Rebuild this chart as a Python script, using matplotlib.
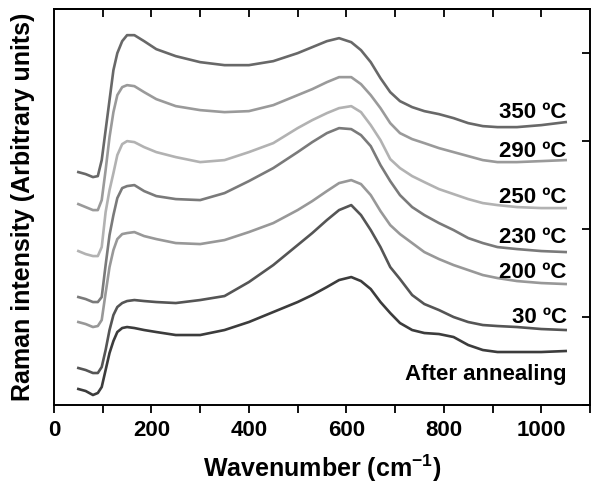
import matplotlib
matplotlib.use("Agg")
import matplotlib.pyplot as plt
from matplotlib.ticker import MultipleLocator

plt.rcParams["font.family"] = ["Liberation Sans", "DejaVu Sans"]
plt.rcParams["font.weight"] = "bold"
plt.rcParams["mathtext.fontset"] = "custom"
plt.rcParams["mathtext.rm"] = "Liberation Sans:bold"
plt.rcParams["mathtext.bf"] = "Liberation Sans:bold"
plt.rcParams["mathtext.it"] = "Liberation Sans:bold"

# wavenumber grid (cm-1) shared by all spectra
wavenumber = [50, 65, 80, 90, 98, 106, 114, 122, 130, 140, 150, 165, 185, 210,
              250, 300, 350, 400, 450, 500, 530, 560, 585, 610, 630, 650, 670,
              690, 710, 735, 760, 790, 820, 850, 880, 910, 950, 1000, 1050]

# stacked Raman spectra (arbitrary units, offsets included)
t350 = [233, 231, 228, 229, 245, 275, 305, 335, 352, 364, 370, 370, 364, 356,
        349, 343, 340, 340, 344, 352, 358, 364, 367, 363, 355, 343, 327,
        313, 304, 298, 294, 291, 287, 282, 279, 278, 278, 280, 283]
t290 = [201, 198, 195, 195, 205, 235, 268, 293, 310, 318, 320, 319, 313, 306,
        299, 295, 293, 294, 300, 310, 316, 323, 328, 328, 321, 310, 297,
        282, 272, 266, 262, 257, 253, 249, 245, 243, 243, 244, 245]
t250 = [154, 151, 149, 149, 158, 193, 215, 232, 250, 261, 264, 263, 258, 253,
        248, 243, 245, 253, 262, 277, 285, 292, 297, 299, 293, 280, 265,
        246, 237, 229, 223, 216, 211, 206, 202, 200, 198, 197, 197]
t230 = [108, 106, 103, 103, 108, 140, 170, 190, 207, 217, 219, 220, 214, 209,
        206, 205, 212, 224, 237, 253, 263, 272, 277, 276, 270, 259, 240,
        224, 210, 198, 190, 182, 175, 167, 162, 158, 156, 154, 153]
t200 = [83, 81, 78, 79, 85, 112, 138, 155, 166, 171, 172, 173, 169, 166,
        162, 161, 165, 173, 182, 195, 204, 214, 222, 225, 221, 210, 194,
        180, 171, 162, 153, 146, 140, 135, 130, 127, 124, 122, 121]
t30 = [37, 35, 32, 32, 38, 55, 75, 90, 98, 102, 104, 105, 104, 103,
       102, 105, 109, 123, 140, 160, 172, 185, 195, 200, 190, 175, 158,
       138, 126, 110, 101, 95, 88, 83, 80, 79, 78, 76, 75]
annealed = [16, 14, 10, 12, 18, 35, 52, 64, 73, 77, 78, 77, 75, 73,
            70, 70, 75, 83, 93, 103, 110, 118, 125, 128, 124, 116, 103,
            92, 82, 75, 72, 71, 68, 60, 55, 53, 53, 53, 54]

spectra = [t350, t290, t250, t230, t200, t30, annealed]
labels = ["350 ºC", "290 ºC", "250 ºC", "230 ºC", "200 ºC", "30 ºC", "After annealing"]
label_y = [287, 248, 202, 162, 127, 82, 25]
colors = ["#686868", "#9a9a9a", "#b2b2b2", "#7a7a7a", "#989898", "#555555", "#3c3c3c"]

fig = plt.figure(figsize=(5.93, 4.83), dpi=100)
ax = fig.add_axes([0.091, 0.1615, 0.904, 0.8195])

for y, c in zip(spectra, colors):
    ax.plot(wavenumber, y, color=c, lw=1.9, solid_joinstyle="round")

for text, y in zip(labels, label_y):
    ax.text(1052, y, text, ha="right", va="baseline", fontsize=16, fontweight="bold")

ax.set_xlim(0, 1100)
ax.set_ylim(0, 396)
ax.xaxis.set_major_locator(MultipleLocator(200))
ax.xaxis.set_minor_locator(MultipleLocator(100))
ax.yaxis.set_major_locator(MultipleLocator(88))

ax.tick_params(axis="x", which="both", direction="out", bottom=True, top=False,
               length=6, width=1.3, labelsize=16, pad=5)
ax.tick_params(axis="y", which="both", left=False, labelleft=False, right=True,
               direction="in", length=6, width=1.3)

# top axis with inward ticks every 100
top = ax.secondary_xaxis("top")
top.set_xticks(list(range(100, 1100, 100)))
top.tick_params(axis="x", direction="in", length=6, width=1.3, labeltop=False)
top.spines["top"].set_linewidth(1.4)

for s in ax.spines.values():
    s.set_linewidth(1.4)

for lab in ax.get_xticklabels():
    lab.set_fontweight("bold")

ax.set_xlabel("Wavenumber (cm$^{-1}$)", fontsize=18, fontweight="bold", labelpad=8)
ax.set_ylabel("Raman intensity (Arbitrary units)", fontsize=18, fontweight="bold", labelpad=14)

fig.savefig("out.png", dpi=100)
